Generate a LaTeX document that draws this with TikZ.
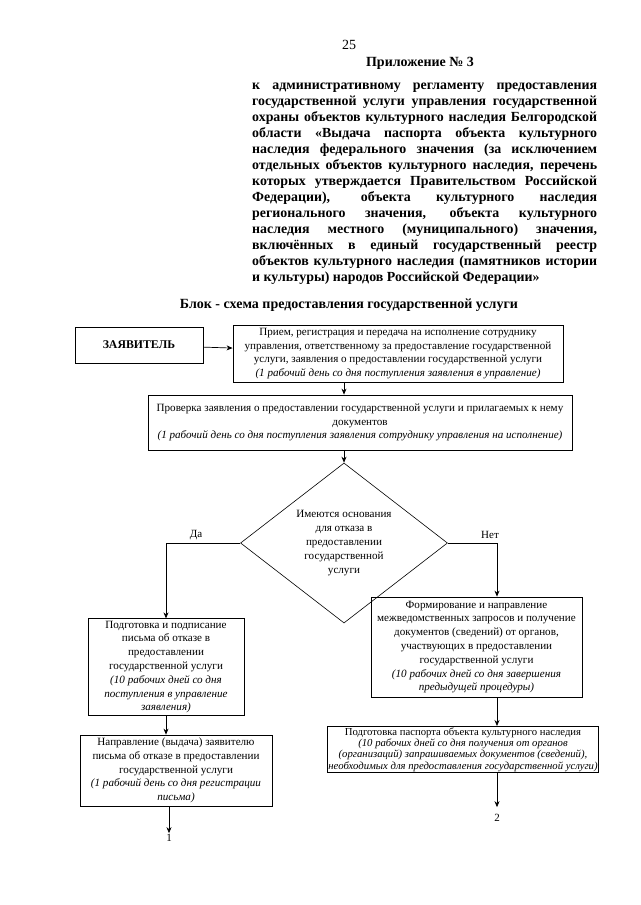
\documentclass[tikz,border=0pt]{standalone}
\usepackage{fontspec}
\setmainfont{Liberation Serif}
\usetikzlibrary{shapes.geometric, arrows.meta}
\tikzset{
  step box/.style={
    draw,
    line width=0.8pt,
    align=center,
    font=\fontsize{11.1}{13.8}\selectfont,
    inner sep=2pt,
  },
  link/.style={
    line width=0.7pt,
    -{Stealth[length=6pt, width=5pt]},
  },
}

\begin{document}
\begin{tikzpicture}[x=1pt, y=-1pt]
      \useasboundingbox (0,0) rectangle (640,905);

      % header
      \node (page) at (349,45) {\fontsize{14}{16}\selectfont 25};
      \node (app) at (420,63) {\fontsize{14}{16}\selectfont\bfseries Приложение № 3};
      \node[anchor=north west, inner sep=0pt, text width=345pt, align=justify,
            font=\fontsize{13.9}{16}\selectfont\bfseries] (reg) at (252,83) {%
        к административному регламенту предоставления\linebreak
        государственной услуги управления государственной\linebreak
        охраны объектов культурного наследия Белгородской\linebreak
        области «Выдача паспорта объекта культурного\linebreak
        наследия федерального значения (за исключением\linebreak
        отдельных объектов культурного наследия, перечень\linebreak
        которых утверждается Правительством Российской\linebreak
        Федерации), объекта культурного наследия\linebreak
        регионального значения, объекта культурного\linebreak
        наследия местного (муниципального) значения,\linebreak
        включённых в единый государственный реестр\linebreak
        объектов культурного наследия (памятников истории\linebreak
        и культуры) народов Российской Федерации»};
      \node (title) at (349,305) {\fontsize{14}{16}\selectfont\bfseries Блок - схема предоставления государственной услуги};

      % boxes
      \node[step box, minimum width=128pt, minimum height=36pt,
            font=\fontsize{11.8}{14}\selectfont\bfseries] (appl) at (139,345) {ЗАЯВИТЕЛЬ};
      \node[step box, minimum width=330pt, minimum height=57pt] (recv) at (398,353.5) {%
        Прием, регистрация и передача на исполнение сотруднику\\
        управления, ответственному за предоставление государственной\\
        услуги, заявления о предоставлении государственной услуги\\
        \textit{(1 рабочий день со дня поступления заявления в управление)}};
      \node[step box, minimum width=424pt, minimum height=55pt] (check) at (360,422.5) {%
        Проверка заявления о предоставлении государственной услуги и прилагаемых к нему\\
        документов\\
        \textit{(1 рабочий день со дня поступления заявления сотруднику управления на исполнение)}};
      \node[step box, diamond, line width=0.6pt, minimum width=207pt, minimum height=146pt,
            inner sep=0pt] (ask) at (344,543) {%
        Имеются основания\\ для отказа в\\ предоставлении\\ государственной\\ услуги};
      \node[step box, minimum width=156pt, minimum height=90pt] (deny) at (166,667) {%
        Подготовка и подписание\\
        письма об отказе в\\
        предоставлении\\
        государственной услуги\\
        \textit{(10 рабочих дней со дня}\\
        \textit{поступления в управление}\\
        \textit{заявления)}};
      \node[step box, minimum width=192pt, minimum height=71pt] (send) at (176,770.5) {%
        Направление (выдача) заявителю\\
        письма об отказе в предоставлении\\
        государственной услуги\\
        \textit{(1 рабочий день со дня регистрации}\\
        \textit{письма)}};
      \node[step box, minimum width=211pt, minimum height=100pt] (req) at (476.5,647) {%
        Формирование и направление\\
        межведомственных запросов и получение\\
        документов (сведений) от органов,\\
        участвующих в предоставлении\\
        государственной услуги\\
        \textit{(10 рабочих дней со дня завершения}\\
        \textit{предыдущей процедуры)}};
      \node[step box, minimum width=254pt, minimum height=45pt, inner sep=1pt,
            font=\fontsize{10.7}{11.4}\selectfont] (pass) at (463,749.5) {%
        Подготовка паспорта объекта культурного наследия\\
        \textit{(10 рабочих дней со дня получения от органов}\\
        \textit{(организаций) запрашиваемых документов (сведений),}\\
        \textit{необходимых для предоставления государственной услуги)}};

      % page connectors
      \node[inner sep=1pt, font=\fontsize{11}{13}\selectfont] (c1) at (169,838) {1};
      \node[inner sep=1pt, font=\fontsize{11}{13}\selectfont] (c2) at (497,818) {2};

      % branch labels
      \node[font=\fontsize{11}{13}\selectfont] (yes) at (196,535) {Да};
      \node[font=\fontsize{11}{13}\selectfont] (no) at (490,535) {Нет};

      \draw[link] (appl) -- (recv);
      \draw[link] (recv.south -| ask.north) -- (check.north -| ask.north);
      \draw[link] (check.south -| ask.north) -- (ask.north);
      \draw[link] (ask.west) -| (deny.north);
      \draw[link] (ask.east) -| (req.north -| c2.north);
      \draw[link] (deny.south) -- (deny.south |- send.north);
      \draw[link] (send.south -| c1.north) -- (c1.north);
      \draw[link] (req.south -| c2.north) -- (pass.north -| c2.north);
      \draw[link] (pass.south -| c2.north) -- ([yshift=6pt]c2.north);
    \end{tikzpicture}
\end{document}
